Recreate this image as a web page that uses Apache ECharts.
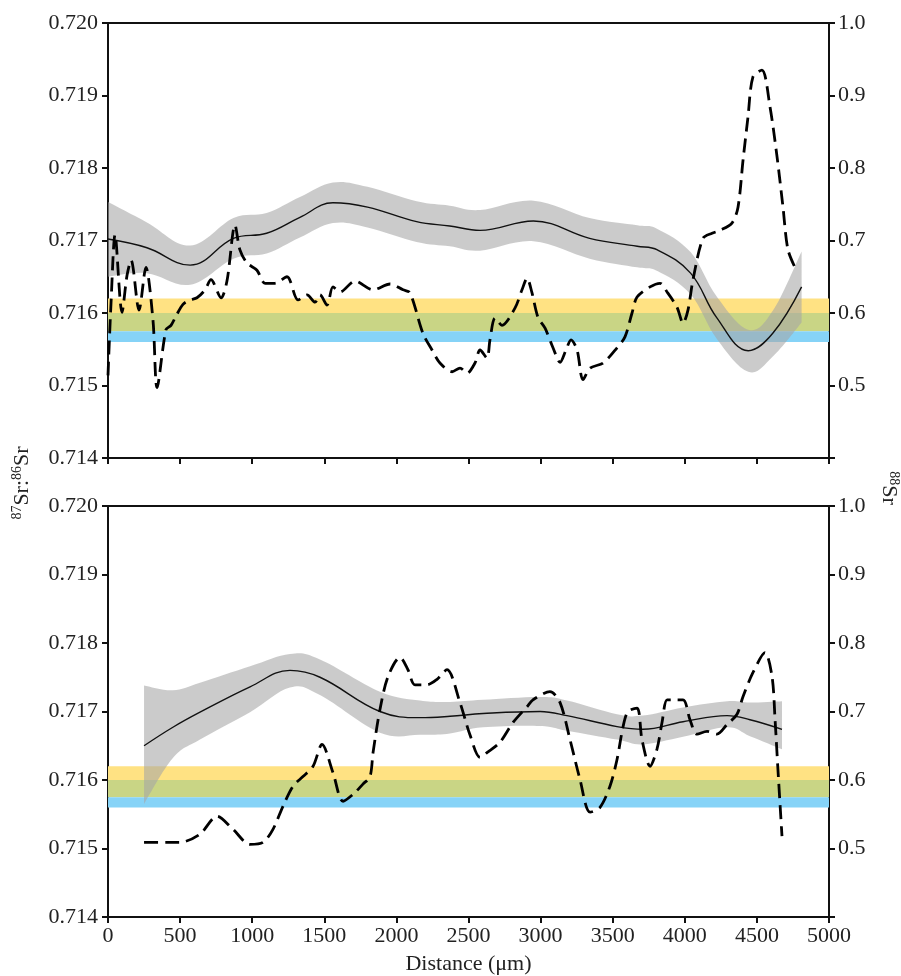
<!DOCTYPE html>
<html>
<head>
<meta charset="utf-8">
<script src="https://cdn.jsdelivr.net/npm/echarts@6/dist/echarts.min.js"></script>
<style>
html,body{margin:0;padding:0;background:#fff;}
#chart{width:901px;height:976px;}
</style>
</head>
<body>
<div id="chart"></div>
<script>
// ---------- Data ----------
const xTicks = [0, 500, 1000, 1500, 2000, 2500, 3000, 3500, 4000, 4500, 5000];

// Reference stripes (87Sr/86Sr) : [from, to]
const stripeYellow = [0.7160, 0.7162];
const stripeGreen  = [0.71575, 0.7160];
const stripeBlue   = [0.7156, 0.71575];

// Top panel – smoothed 87Sr/86Sr curve with confidence band
const topSolidDist  = [0, 270, 570, 870, 1100, 1331, 1560, 1800, 2140, 2370, 2580, 2950, 3340, 3670, 3810, 4040, 4220, 4440, 4610, 4810];
const topSolidSr    = [0.71702, 0.71690, 0.71666, 0.71703, 0.71710, 0.71732, 0.71752, 0.71746, 0.71726, 0.71720, 0.71714, 0.71727, 0.71703, 0.71692, 0.71687, 0.71655, 0.71594, 0.71548, 0.71572, 0.71636];
const topSolidUpper = [0.71753, 0.71725, 0.71693, 0.71731, 0.71738, 0.71760, 0.71780, 0.71774, 0.71754, 0.71748, 0.71742, 0.71755, 0.71731, 0.71721, 0.71716, 0.71684, 0.71623, 0.71577, 0.71603, 0.71685];
const topSolidLower = [0.71650, 0.71655, 0.71639, 0.71675, 0.71682, 0.71704, 0.71724, 0.71718, 0.71698, 0.71692, 0.71686, 0.71699, 0.71675, 0.71663, 0.71658, 0.71626, 0.71565, 0.71519, 0.71540, 0.71587];

// Top panel – 88Sr profile (right axis)
const topDashDist = [0, 21, 49, 97, 132, 160, 215, 263, 312, 340, 402, 437, 472, 520, 569, 617, 673, 714, 784, 825, 881, 915, 964, 1033, 1089, 1158, 1241, 1318, 1380, 1436, 1470, 1519, 1560, 1609, 1713, 1838, 1956, 2046, 2094, 2184, 2247, 2302, 2386, 2441, 2490, 2545, 2580, 2628, 2649, 2684, 2732, 2823, 2871, 2906, 2940, 2982, 3031, 3086, 3135, 3176, 3211, 3253, 3294, 3343, 3433, 3530, 3585, 3634, 3669, 3759, 3828, 3877, 3946, 3988, 4022, 4057, 4126, 4189, 4244, 4327, 4369, 4404, 4438, 4473, 4535, 4591, 4640, 4681, 4716, 4778];
const topDashVal  = [0.514, 0.614, 0.708, 0.601, 0.652, 0.673, 0.604, 0.663, 0.590, 0.497, 0.577, 0.583, 0.596, 0.612, 0.618, 0.621, 0.632, 0.646, 0.621, 0.644, 0.721, 0.687, 0.669, 0.659, 0.641, 0.641, 0.650, 0.618, 0.625, 0.615, 0.625, 0.611, 0.636, 0.629, 0.644, 0.632, 0.640, 0.632, 0.628, 0.572, 0.549, 0.531, 0.519, 0.524, 0.517, 0.531, 0.549, 0.538, 0.563, 0.593, 0.583, 0.607, 0.632, 0.648, 0.628, 0.594, 0.579, 0.552, 0.532, 0.549, 0.563, 0.549, 0.508, 0.524, 0.531, 0.552, 0.567, 0.600, 0.622, 0.636, 0.641, 0.629, 0.608, 0.586, 0.604, 0.646, 0.703, 0.710, 0.714, 0.724, 0.746, 0.811, 0.870, 0.926, 0.935, 0.884, 0.815, 0.746, 0.687, 0.657];

// Bottom panel – smoothed 87Sr/86Sr curve with confidence band
const botSolidDist  = [250, 450, 638, 985, 1262, 1470, 1886, 2164, 2372, 2601, 2996, 3183, 3530, 3710, 3988, 4293, 4452, 4674];
const botSolidSr    = [0.71650, 0.71677, 0.71699, 0.71736, 0.71760, 0.71750, 0.71700, 0.71691, 0.71693, 0.71697, 0.71700, 0.71694, 0.71678, 0.71674, 0.71685, 0.71694, 0.71688, 0.71674];
const botSolidUpper = [0.71738, 0.71731, 0.71742, 0.71766, 0.71784, 0.71776, 0.71729, 0.71716, 0.71714, 0.71717, 0.71721, 0.71716, 0.71696, 0.71694, 0.71706, 0.71715, 0.71713, 0.71715];
const botSolidLower = [0.71565, 0.71632, 0.71659, 0.71699, 0.71735, 0.71724, 0.71669, 0.71666, 0.71668, 0.71677, 0.71679, 0.71672, 0.71659, 0.71652, 0.71663, 0.71677, 0.71664, 0.71645];

// Bottom panel – 88Sr profile (right axis)
const botDashDist = [250, 409, 499, 638, 756, 867, 985, 1075, 1144, 1214, 1283, 1352, 1422, 1484, 1560, 1630, 1699, 1768, 1817, 1838, 1886, 1942, 2025, 2080, 2129, 2212, 2282, 2351, 2441, 2510, 2580, 2628, 2718, 2809, 2906, 2947, 3065, 3135, 3204, 3273, 3343, 3412, 3481, 3530, 3572, 3606, 3669, 3703, 3759, 3807, 3842, 3877, 3918, 3988, 4036, 4085, 4154, 4223, 4293, 4362, 4404, 4473, 4556, 4605, 4626, 4646, 4674];
const botDashVal  = [0.509, 0.509, 0.509, 0.521, 0.547, 0.528, 0.506, 0.509, 0.528, 0.562, 0.591, 0.605, 0.620, 0.652, 0.611, 0.569, 0.579, 0.594, 0.605, 0.640, 0.703, 0.751, 0.779, 0.761, 0.739, 0.739, 0.747, 0.761, 0.713, 0.666, 0.633, 0.640, 0.655, 0.684, 0.707, 0.717, 0.729, 0.713, 0.659, 0.601, 0.553, 0.560, 0.591, 0.630, 0.678, 0.700, 0.705, 0.659, 0.620, 0.645, 0.684, 0.717, 0.717, 0.717, 0.688, 0.667, 0.671, 0.667, 0.681, 0.696, 0.722, 0.757, 0.786, 0.751, 0.688, 0.615, 0.518];

// ---------- Helpers ----------
const zip = (a, b) => a.map((v, i) => [v, b[i]]);
const FONT = '"Liberation Serif", "Times New Roman", serif';
const AX = '#111';

function xAxisBottom(grid, showLabels) {
  return {
    type: 'value', gridIndex: grid, min: 0, max: 5000, interval: 500, position: 'bottom',
    axisLine: { show: true, onZero: false, lineStyle: { color: AX, width: 2 } },
    axisTick: { show: true, length: 6, lineStyle: { color: AX, width: 2 } },
    axisLabel: { show: showLabels, color: '#222', fontFamily: FONT, fontSize: 22, margin: 8, formatter: v => String(v) },
    splitLine: { show: false },
    name: showLabels ? 'Distance (\u03bcm)' : '', nameLocation: 'middle', nameGap: 36,
    nameTextStyle: { color: '#222', fontFamily: FONT, fontSize: 22 }
  };
}
function xAxisTop(grid) {
  return {
    type: 'value', gridIndex: grid, min: 0, max: 5000, position: 'top',
    axisLine: { show: true, onZero: false, lineStyle: { color: AX, width: 2 } },
    axisTick: { show: false }, axisLabel: { show: false }, splitLine: { show: false }
  };
}
function yLeft(grid) {
  return {
    type: 'value', gridIndex: grid, min: 0.714, max: 0.720, interval: 0.001, position: 'left',
    axisLine: { show: true, onZero: false, lineStyle: { color: AX, width: 2 } },
    axisTick: { show: true, length: 6, lineStyle: { color: AX, width: 2 } },
    axisLabel: { color: '#222', fontFamily: FONT, fontSize: 22, margin: 10, formatter: v => v.toFixed(3) },
    splitLine: { show: false }
  };
}
function yRight(grid) {
  return {
    type: 'value', gridIndex: grid, min: 0.4, max: 1.0, interval: 0.1, position: 'right',
    axisLine: { show: true, onZero: false, lineStyle: { color: AX, width: 2 } },
    axisTick: { show: true, length: 6, lineStyle: { color: AX, width: 2 } },
    axisLabel: { color: '#222', fontFamily: FONT, fontSize: 22, margin: 9, formatter: v => (v < 0.45 ? '' : v.toFixed(1)) },
    splitLine: { show: false }
  };
}
function stripes() {
  return {
    silent: true,
    data: [
      [{ yAxis: stripeYellow[0], itemStyle: { color: '#FFE283' } }, { yAxis: stripeYellow[1] }],
      [{ yAxis: stripeGreen[0], itemStyle: { color: '#C9D585' } }, { yAxis: stripeGreen[1] }],
      [{ yAxis: stripeBlue[0], itemStyle: { color: '#86D3F7' } }, { yAxis: stripeBlue[1] }]
    ]
  };
}
function bandSeries(xIdx, yIdx, sd, su, sl) {
  // one data row per distance: [distance, upper, lower]
  const rows = sd.map((d, i) => [d, su[i], sl[i]]);
  return {
    type: 'custom', coordinateSystem: 'cartesian2d', xAxisIndex: xIdx, yAxisIndex: yIdx,
    data: rows, silent: true, z: 2, clip: true,
    encode: { x: 0, y: [1, 2] },
    renderItem: function (params, api) {
      if (params.dataIndex !== 0) return null;
      const up = rows.map(r => api.coord([r[0], r[1]]));
      const lo = rows.map(r => api.coord([r[0], r[2]])).reverse();
      return {
        type: 'group',
        children: [{
          type: 'path',
          shape: { pathData: buildPath(up, lo) },
          style: { fill: 'rgba(165,165,165,0.58)', stroke: null }
        }]
      };
    }
  };
}
// Catmull-Rom style cubic path through the screen points (rendering only)
function curveSeg(pts, startCmd) {
  let s = startCmd + pts[0][0] + ' ' + pts[0][1];
  for (let i = 0; i < pts.length - 1; i++) {
    const p0 = pts[i - 1] || pts[i], p1 = pts[i], p2 = pts[i + 1], p3 = pts[i + 2] || pts[i + 1];
    const t = 0.18;
    const c1 = [p1[0] + (p2[0] - p0[0]) * t, p1[1] + (p2[1] - p0[1]) * t];
    const c2 = [p2[0] - (p3[0] - p1[0]) * t, p2[1] - (p3[1] - p1[1]) * t];
    s += ' C' + c1[0] + ' ' + c1[1] + ' ' + c2[0] + ' ' + c2[1] + ' ' + p2[0] + ' ' + p2[1];
  }
  return s;
}
function buildPath(up, lo) {
  return curveSeg(up, 'M') + ' ' + curveSeg(lo, 'L') + ' Z';
}
function panelSeries(grid, xIdx, yL, yR, sd, sc, su, sl, dd, dv) {
  return [
    { type: 'line', name: 'stripes' + grid, xAxisIndex: xIdx, yAxisIndex: yL, data: [],
      symbol: 'none', z: 1, silent: true, markArea: stripes() },
    bandSeries(xIdx, yL, sd, su, sl),
    { type: 'line', name: 'sr' + grid, xAxisIndex: xIdx, yAxisIndex: yL,
      data: zip(sd, sc), smooth: 0.4, symbol: 'none', lineStyle: { color: '#111', width: 1.4 }, z: 3 },
    { type: 'line', name: 'd88' + grid, xAxisIndex: xIdx, yAxisIndex: yR,
      data: zip(dd, dv), smooth: 0.3, symbol: 'none',
      lineStyle: { color: '#000', width: 2.8, type: [14, 7] }, z: 4 }
  ];
}

const chart = echarts.init(document.getElementById('chart'), null, { renderer: 'canvas' });
chart.setOption({
  backgroundColor: '#fff',
  animation: false,
  grid: [
    { left: 108, top: 23, width: 721, height: 435 },
    { left: 108, top: 506, width: 721, height: 412 }
  ],
  xAxis: [xAxisBottom(0, false), xAxisTop(0), xAxisBottom(1, true), xAxisTop(1)],
  yAxis: [yLeft(0), yRight(0), yLeft(1), yRight(1)],
  series: [
    ...panelSeries(0, 0, 0, 1, topSolidDist, topSolidSr, topSolidUpper, topSolidLower, topDashDist, topDashVal),
    ...panelSeries(1, 2, 2, 3, botSolidDist, botSolidSr, botSolidUpper, botSolidLower, botDashDist, botDashVal)
  ],
  graphic: [
    { type: 'text', x: 22, y: 483, rotation: Math.PI / 2,
      style: { text: '{s|87}{b|Sr:}{s|86}{b|Sr}', align: 'center', verticalAlign: 'middle',
        rich: { s: { fontFamily: FONT, fontSize: 14, fill: '#222', verticalAlign: 'top', lineHeight: 24 },
                b: { fontFamily: FONT, fontSize: 22, fill: '#222', lineHeight: 24 } } } },
    { type: 'text', x: 889, y: 488, rotation: -Math.PI / 2,
      style: { text: '{s|88}{b|Sr}', align: 'center', verticalAlign: 'middle',
        rich: { s: { fontFamily: FONT, fontSize: 14, fill: '#222', verticalAlign: 'top', lineHeight: 24 },
                b: { fontFamily: FONT, fontSize: 22, fill: '#222', lineHeight: 24 } } } }
  ]
});
</script>
</body>
</html>
